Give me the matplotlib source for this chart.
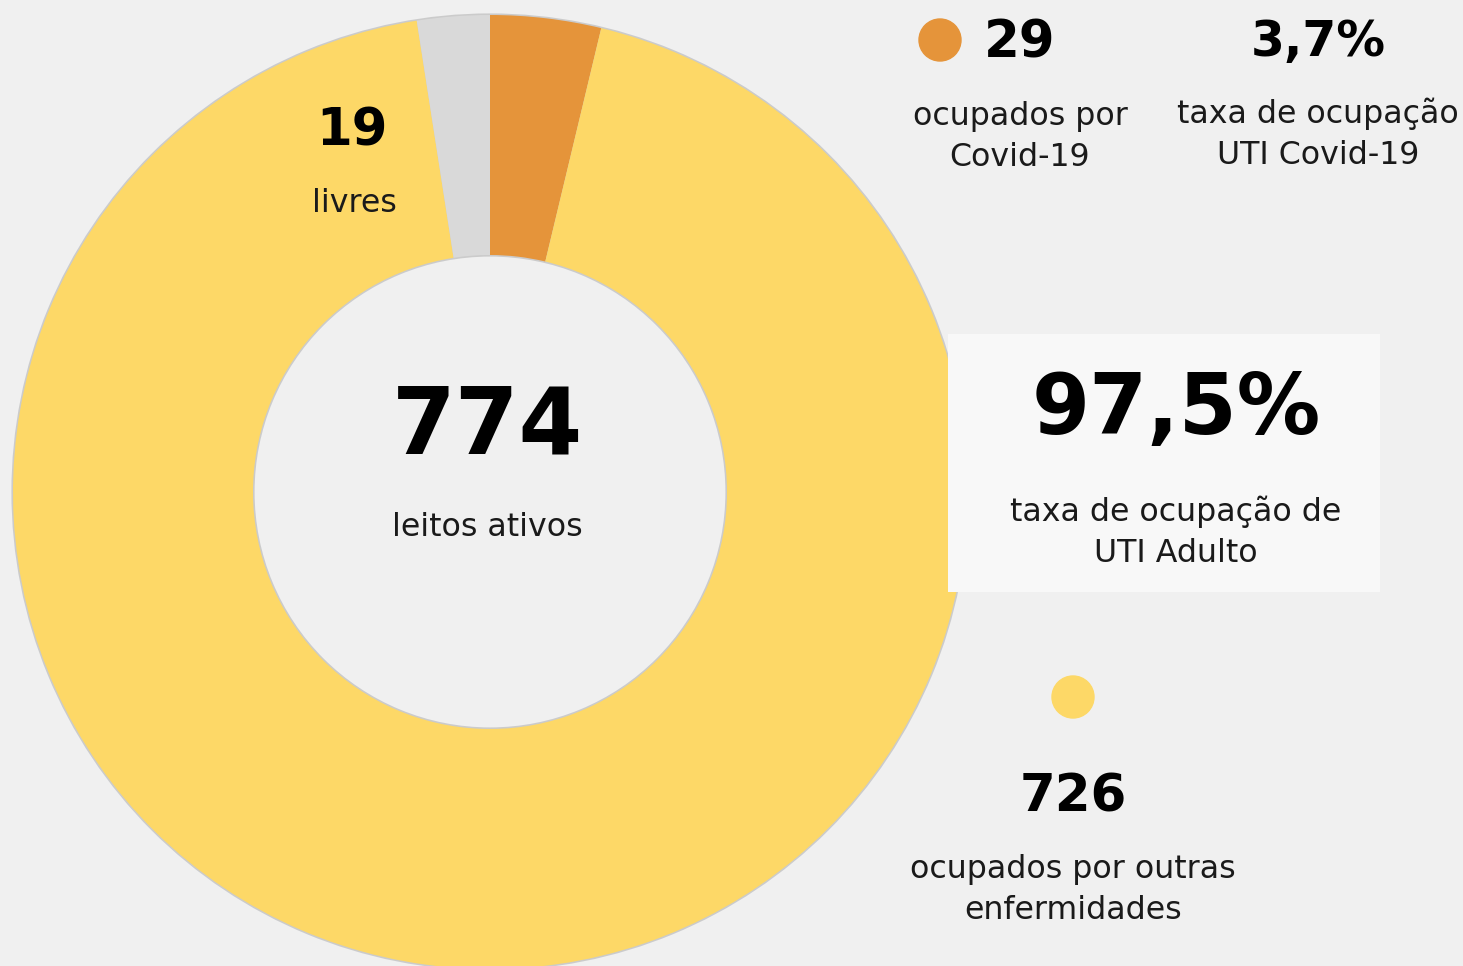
import matplotlib.pyplot as plt

# data
categorias = ["ocupados por Covid-19", "ocupados por outras enfermidades", "livres"]
leitos = [29, 726, 19]
cores = ["#E5943A", "#FDD867", "#D9D9D9"]
total_leitos = 774
taxa_adulto = "97,5%"
taxa_covid = "3,7%"

W, H = 1463, 966
BG = "#F0F0F0"

plt.rcParams["font.family"] = ["DejaVu Sans"]

fig = plt.figure(figsize=(W / 100, H / 100), dpi=100, facecolor=BG)
ax = fig.add_axes([0, 0, 1, 1])
ax.set_facecolor(BG)


def py(y):
    # pixel row (from top) -> data y
    return H - y


cx, cy, r, w = 490, py(492), 477, 240

# soft edge around the ring
ax.pie([1], colors=["#a0a0a0"], radius=r + 1.6, center=(cx, cy),
       wedgeprops=dict(width=w + 3.2, edgecolor="none", alpha=0.45),
       frame=True)
ax.pie(leitos, colors=cores, radius=r, center=(cx, cy), startangle=90,
       counterclock=False, wedgeprops=dict(width=w, edgecolor="none"),
       frame=True)
ax.set_xlim(0, W)
ax.set_ylim(0, H)
ax.set_aspect("equal")
ax.axis("off")

# light box behind the main rate
ax.add_patch(plt.Rectangle((948, py(592)), 432, 258, facecolor="#F8F8F8",
                           edgecolor="none", zorder=1))

bold = dict(fontweight="bold", color="black", ha="center", va="center", zorder=5)
reg = dict(color="#1a1a1a", ha="center", va="center", linespacing=1.42,
           fontsize=22.8, zorder=5)

ax.text(487, py(428), str(total_leitos), fontsize=66, **bold)
ax.text(487, py(527), "leitos ativos", **reg)

ax.text(352, py(131), str(leitos[2]), fontsize=37, **bold)
ax.text(354, py(203), "livres", **reg)

ax.add_patch(plt.Circle((940, py(40)), 21, color=cores[0], zorder=5))
ax.text(1020, py(44), str(leitos[0]), fontsize=37, **bold)
ax.text(1020, py(137), "ocupados por\nCovid-19", **reg)

ax.text(1318, py(42), taxa_covid, fontsize=35, **bold)
ax.text(1318, py(134), "taxa de ocupação\nUTI Covid-19", **reg)

ax.text(1176, py(410), taxa_adulto, fontsize=60, **bold)
ax.text(1176, py(532), "taxa de ocupação de\nUTI Adulto", **reg)

ax.add_patch(plt.Circle((1073, py(697)), 21, color=cores[1], zorder=5))
ax.text(1073, py(797), str(leitos[1]), fontsize=37, **bold)
ax.text(1073, py(890), "ocupados por outras\nenfermidades", **reg)

fig.savefig("out.png", dpi=100, facecolor=BG)
